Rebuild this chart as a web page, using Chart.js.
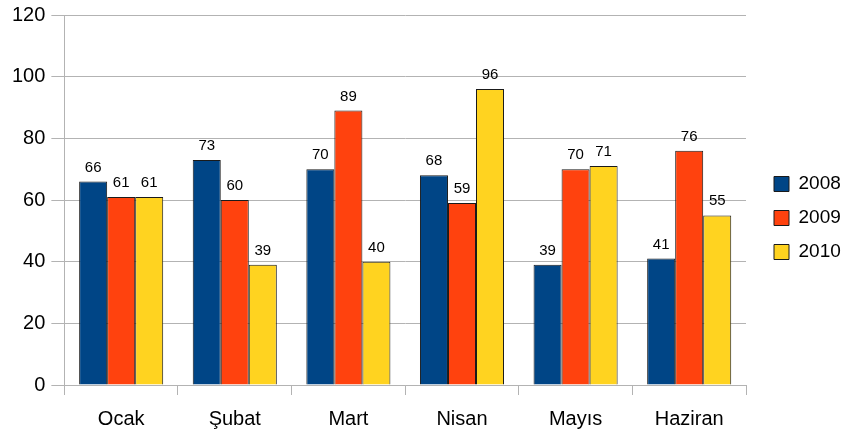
<!DOCTYPE html>
<html>
<head>
<meta charset="utf-8">
<script src="https://cdn.jsdelivr.net/npm/chart.js@4"></script>
<style>
  html, body { margin: 0; padding: 0; background: #fff; }
  #wrap { width: 850px; height: 436px; }
</style>
</head>
<body>
<div id="wrap"><canvas id="myChart"></canvas></div>
<script>
// chart data
const months = ['Ocak', 'Şubat', 'Mart', 'Nisan', 'Mayıs', 'Haziran'];
const series2008 = [66, 73, 70, 68, 39, 41];
const series2009 = [61, 60, 89, 59, 70, 76];
const series2010 = [61, 39, 40, 96, 71, 55];
const yTicks = [0, 20, 40, 60, 80, 100, 120];

const FONT = '"Liberation Sans", Arial, sans-serif';

// draws the value above each bar
const valueLabels = {
    id: 'valueLabels',
    afterDatasetsDraw(chart) {
        const ctx = chart.ctx;
        ctx.save();
        ctx.font = '15px ' + FONT;
        ctx.fillStyle = '#000';
        ctx.textAlign = 'center';
        ctx.textBaseline = 'alphabetic';
        chart.data.datasets.forEach((ds, i) => {
            chart.getDatasetMeta(i).data.forEach((bar, j) => {
                ctx.fillText(ds.data[j], bar.x, bar.y - 10);
            });
        });
        ctx.restore();
    }
};

const config = {
    type: 'bar',
    data: {
        labels: months,
        datasets: [
            { label: '2008', data: series2008, backgroundColor: '#004586' },
            { label: '2009', data: series2009, backgroundColor: '#ff420e' },
            { label: '2010', data: series2010, backgroundColor: '#ffd320' }
        ].map(d => Object.assign(d, { borderColor: '#1a1a1a', borderWidth: 1 }))
    },
    options: {
        responsive: true,
        maintainAspectRatio: false,
        animation: false,
        datasets: { bar: { categoryPercentage: 0.74, barPercentage: 1 } },
        layout: { padding: { top: 0, right: 0, left: 6, bottom: 0 } },
        scales: {
            x: {
                grid: { drawOnChartArea: false, color: '#b3b3b3', tickLength: 10, offset: true },
                border: { color: '#b3b3b3' },
                ticks: { color: '#000', font: { size: 20, family: FONT }, padding: 12 },
                afterFit: axis => { axis.height = 51; }
            },
            y: {
                min: 0,
                max: 120,
                afterBuildTicks: axis => { axis.ticks = yTicks.map(v => ({ value: v })); },
                grid: { color: '#b3b3b3', tickLength: 13 },
                border: { color: '#b3b3b3' },
                ticks: { color: '#000', font: { size: 20, family: FONT, lineHeight: 0.9 }, padding: 6 }
            },
            // empty spacer between plot and legend
            gap: {
                type: 'linear',
                position: 'right',
                grid: { display: false },
                border: { display: false },
                ticks: { display: false },
                afterFit: axis => { axis.width = 13; }
            }
        },
        plugins: {
            legend: {
                position: 'right',
                maxWidth: 91,
                labels: {
                    color: '#000',
                    boxWidth: 15,
                    boxHeight: 15,
                    padding: 15,
                    font: { size: 19, family: FONT }
                }
            },
            tooltip: { enabled: false }
        }
    },
    plugins: [valueLabels]
};

const ctx = document.getElementById('myChart').getContext('2d');
const chart = new Chart(ctx, config);
</script>
</body>
</html>
